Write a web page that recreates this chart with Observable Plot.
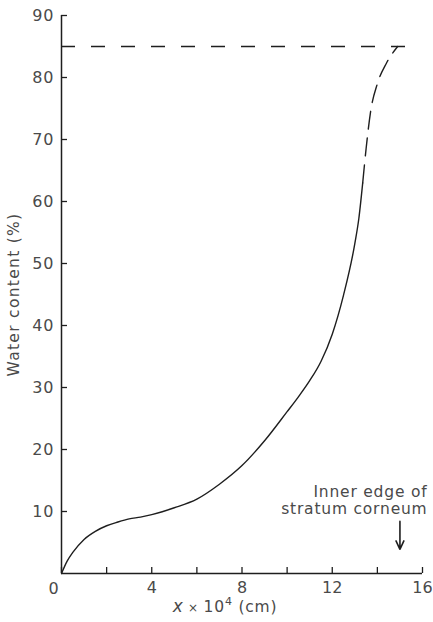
<!DOCTYPE html>
<html>
<head>
<meta charset="utf-8">
<script src="https://cdn.jsdelivr.net/npm/d3@7"></script>
<script src="https://cdn.jsdelivr.net/npm/@observablehq/plot@0.6"></script>
<style>
  html, body { margin: 0; padding: 0; background: #fff; }
  #chart svg { display: block; }
</style>
</head>
<body>
<div id="chart"></div>
<script>
// Water content profile across the stratum corneum (depth x in units of 1e-4 cm)
const solidX = [0, 0.25, 0.5, 1, 1.5, 2, 2.5, 3, 3.5, 4, 5, 6, 7, 8, 9, 10, 10.5, 11, 11.5, 12, 12.5, 13, 13.18, 13.35];
const solidY = [0, 2.0, 3.4, 5.5, 6.8, 7.7, 8.3, 8.8, 9.1, 9.5, 10.6, 12, 14.4, 17.4, 21.4, 26.1, 28.5, 31.1, 34.2, 38.6, 44.9, 53.2, 57.3, 63];

// Extrapolated portion towards the saturation level
const dashedX = [13.35, 13.5, 13.7, 14.0, 14.4, 14.9];
const dashedY = [63, 68.5, 74.5, 79, 82.3, 85];

const saturation = 85;
const saturationEnd = 15.4;

const xTicks = [0, 2, 4, 6, 8, 10, 12, 14, 16];
const xTickLabels = [4, 8, 12, 16];
const yTicks = [10, 20, 30, 40, 50, 60, 70, 80, 90];

const edgeX = 15;
const arrowFrom = 8.4;
const arrowTo = 3.9;

const yLabel = "Water content (%)";
const xLabel = "x × 10⁴ (cm)";
const note = "Inner edge of\nstratum corneum";

const solid = solidX.map((x, i) => ({x, y: solidY[i]}));
const dashed = dashedX.map((x, i) => ({x, y: dashedY[i]}));

const ink = "#1e1e1e";
const textInk = "#4a4a4a";

const width = 433;
const marginLeft = 61;
const marginRight = 11;
const xMax = 16;
// horizontal reach of the y ticks (6px), expressed in x units
const yTickReach = 6 * xMax / (width - marginLeft - marginRight);

const chart = Plot.plot({
  width,
  height: 622,
  marginLeft,
  marginRight,
  marginTop: 15,
  marginBottom: 49,
  x: {domain: [0, xMax]},
  y: {domain: [0, 90]},
  style: {fontFamily: "DejaVu Sans, sans-serif", fontSize: "15px", color: textInk, background: "#fff"},
  marks: [
    // axis lines
    Plot.ruleX([0], {y1: 0, y2: 90, stroke: ink, strokeWidth: 1.5}),
    Plot.ruleY([0], {x1: 0, x2: xMax, stroke: ink, strokeWidth: 1.5}),
    // inward ticks
    Plot.ruleX(xTicks, {x: d => d, y1: 0, y2: 0, insetTop: -6, stroke: ink, strokeWidth: 1.3}),
    Plot.ruleY(yTicks, {y: d => d, x1: 0, x2: yTickReach, stroke: ink, strokeWidth: 1.3}),
    // tick labels
    Plot.axisX({ticks: xTickLabels, tickSize: 0, tickPadding: 8, label: null, fill: textInk, fontSize: 16}),
    Plot.axisY({ticks: yTicks, tickSize: 0, tickPadding: 7, label: null, fill: textInk, fontSize: 16}),
    Plot.text(["0"], {x: 0, y: 0, text: d => d, dx: -8, dy: 15, fill: textInk, fontSize: 16}),
    // saturation level
    Plot.ruleY([saturation], {x1: 0, x2: saturationEnd, stroke: ink, strokeWidth: 1.3, strokeDasharray: "14,16"}),
    // measured profile and its extrapolation
    Plot.line(solid, {x: "x", y: "y", curve: "monotone-x", stroke: ink, strokeWidth: 1.4}),
    Plot.line(dashed, {x: "x", y: "y", curve: "monotone-x", stroke: ink, strokeWidth: 1.4, strokeDasharray: "18,9"}),
    // annotation
    Plot.text([note], {x: 16, y: 11.9, text: d => d, textAnchor: "end", dx: 5, lineHeight: 1.15, fill: textInk, fontSize: 15.5, ariaLabel: () => "note"}),
    Plot.arrow([{x: edgeX, y1: arrowFrom, y2: arrowTo}], {x1: "x", x2: "x", y1: "y1", y2: "y2", stroke: ink, strokeWidth: 1.6, headLength: 10, headAngle: 50}),
    // axis titles
    Plot.text([yLabel], {frameAnchor: "left", textAnchor: "middle", text: d => d, rotate: -90, dx: -47, fill: textInk, fontSize: 15.5, ariaLabel: () => "y-title"}),
    Plot.text([xLabel], {frameAnchor: "bottom", textAnchor: "middle", text: d => d, dx: -17, dy: 38, fill: textInk, fontSize: 15.5, ariaLabel: () => "x-title"})
  ]
});

const svg = d3.select(chart);
// the text element carrying a given aria-label (on the element itself or inside its group)
const textOf = (name) => {
  const el = svg.select(`[aria-label="${name}"]`);
  if (el.empty()) return el;
  return el.node().tagName.toLowerCase() === "text" ? el : el.select("text");
};

// wide, hand-lettered spacing for the titles, the note and the tick labels
textOf("y-title").style("letter-spacing", "1.3px");
textOf("note").style("letter-spacing", "0.8px");
svg.selectAll('g[aria-label="y-axis tick label"] text').style("letter-spacing", "1px");

// italic variable name in the x title
const xt = textOf("x-title");
if (!xt.empty()) {
  xt.text(null).style("letter-spacing", "0.8px");
  xt.append("tspan").attr("font-style", "italic").attr("font-size", 17).text("x");
  xt.append("tspan").attr("font-size", 12).text(" × ");
  xt.append("tspan").text("10");
  xt.append("tspan").attr("font-size", 11).attr("dy", -7).text("4");
  xt.append("tspan").attr("dy", 7).text(" (cm)");
}

document.getElementById("chart").appendChild(chart);
</script>
</body>
</html>
